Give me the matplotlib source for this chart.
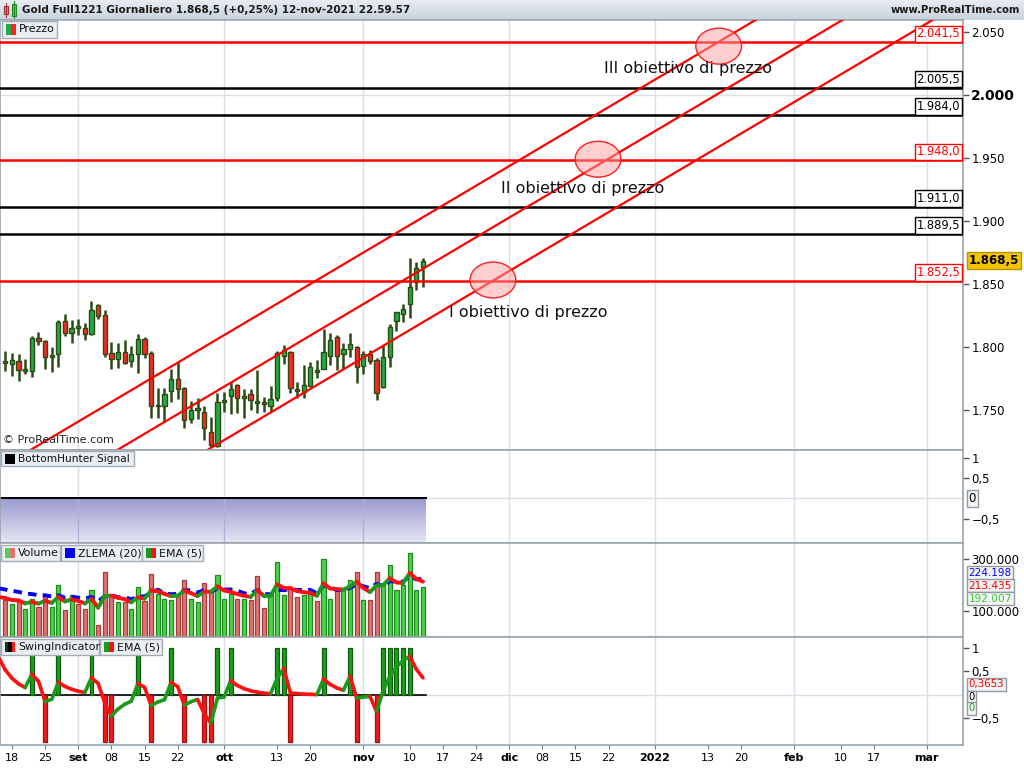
import numpy as np
import matplotlib
matplotlib.use("Agg")
import matplotlib.pyplot as plt
from matplotlib.patches import Ellipse, Rectangle
from matplotlib.collections import LineCollection
import matplotlib.transforms as mtransforms

# ---------------- data ----------------
start_date = "2021-08-17"
holidays = ["2021-12-24"]

opens = [1789, 1787, 1789, 1781, 1781, 1807, 1805, 1792.5, 1794.5, 1821,
         1811.5, 1815.5, 1815.5, 1810.5, 1833, 1825.5, 1795.5, 1790.5, 1796, 1789,
         1794.5, 1806.5, 1795.5, 1753, 1753, 1765.5, 1774.5, 1768, 1743, 1750.5,
         1749, 1733, 1721.5, 1756.5, 1761.5, 1770, 1759.5, 1762.5, 1755.5, 1756.5,
         1753, 1759.5, 1793, 1796.5, 1766.5, 1764.5, 1769, 1780.5, 1783, 1793,
         1808, 1794.5, 1798.5, 1800.5, 1785, 1794.5, 1790, 1768.5, 1792, 1820.5,
         1826, 1834, 1852, 1863.5]
highs = [1797, 1795, 1794.5, 1790.5, 1809, 1812, 1806, 1800, 1821.5, 1826,
         1821.5, 1822.5, 1819, 1836.5, 1834, 1829.5, 1804, 1803, 1805.5, 1801,
         1810.5, 1808, 1797, 1767.5, 1767.5, 1782.5, 1788.5, 1768.5, 1757, 1760,
         1753, 1745, 1764, 1764.5, 1772, 1771, 1766.5, 1766.5, 1782, 1760.5,
         1769, 1797, 1802, 1797, 1772.5, 1786, 1788.5, 1790, 1814.5, 1811,
         1809.5, 1803.5, 1811.5, 1801, 1797, 1797.5, 1791, 1801.5, 1818.5, 1828,
         1834.5, 1870.5, 1867.5, 1871]
lows = [1781, 1777, 1773.5, 1779, 1776.5, 1801.5, 1782.5, 1780.5, 1784.5, 1809,
        1803, 1809.5, 1806, 1809.5, 1822.5, 1792.5, 1782.5, 1783.5, 1786.5, 1784.5,
        1779.5, 1791, 1744, 1744, 1740.5, 1756.5, 1759, 1736, 1739.5, 1743,
        1726.5, 1721, 1720.5, 1749, 1747, 1747.5, 1744, 1750.5, 1748, 1749,
        1749, 1757, 1786.5, 1764, 1760, 1759.5, 1768.5, 1775.5, 1782.5, 1786,
        1782, 1783, 1792.5, 1771.5, 1779, 1786.5, 1758, 1768, 1784.5, 1813,
        1820, 1823, 1845, 1847.5]
closes = [1787.5, 1789.5, 1781.5, 1782.5, 1807, 1804.5, 1792, 1793.5, 1820, 1811.5,
          1815.5, 1816.5, 1810.5, 1829.5, 1825, 1794.5, 1790.5, 1796, 1787.5, 1794.5,
          1806.5, 1794.5, 1753, 1754, 1762.5, 1774.5, 1767, 1742, 1750, 1752,
          1736, 1722.5, 1756.5, 1758, 1766.5, 1760, 1761.5, 1758.5, 1757.5, 1755,
          1759, 1795, 1797.5, 1767.5, 1765, 1770, 1784.5, 1782, 1796, 1806,
          1793, 1798.5, 1802.5, 1784, 1794.5, 1789, 1763.5, 1792.5, 1816, 1827.5,
          1830, 1848, 1863, 1868.5]

volumes = [141000, 128000, 137000, 106000, 147000, 115000, 160000, 115000, 199000, 103000,
           160000, 128000, 109000, 182000, 45000, 249000, 160000, 135000, 135000, 109000,
           192000, 137000, 244000, 167000, 147000, 141000, 160000, 221000, 147000, 135000,
           208000, 173000, 237000, 147000, 164000, 147000, 147000, 144000, 233000, 113000,
           160000, 290000, 160000, 188000, 154000, 163000, 164000, 137000, 301000, 147000,
           179000, 179000, 218000, 249000, 141000, 141000, 249000, 205000, 276000, 179000,
           201000, 323000, 179000, 192007]
volume_up = [0, 1, 0, 1, 1, 0, 0, 1, 1, 0,
             1, 0, 0, 1, 0, 0, 0, 1, 0, 1,
             1, 0, 0, 1, 1, 1, 0, 0, 1, 1,
             0, 0, 1, 1, 1, 0, 1, 0, 0, 0,
             1, 1, 1, 0, 0, 1, 1, 0, 1, 1,
             0, 1, 1, 0, 1, 0, 0, 1, 1, 1,
             1, 1, 1, 1]
volume_ema_seed = 154000
volume_zlema_seed = 187000

swing_up_days = [4, 8, 13, 20, 25, 32, 34, 41, 42, 48, 52, 57, 58, 59, 60, 61]
swing_down_days = [6, 15, 16, 22, 27, 30, 31, 43, 53, 56]
swing_ema_seed = 0.8

level_prices = [2041.5, 2005.5, 1984.0, 1948.0, 1911.0, 1889.5, 1852.5]
level_labels = ["2.041,5", "2.005,5", "1.984,0", "1.948,0", "1.911,0", "1.889,5", "1.852,5"]
level_colors = ["#ff0000", "#000000", "#000000", "#ff0000", "#000000", "#000000", "#ff0000"]

channel_anchor_days = [4.2, 17.3, 30.9]
channel_anchor_price = 1719.8
channel_slope = 3.115

target_days = [73.55, 89.4, 107.6]
target_prices = [1853.2, 1948.9, 2038.5]
target_texts = ["I obiettivo di prezzo", "II obiettivo di prezzo", "III obiettivo di prezzo"]
target_text_days = [66.9, 74.8, 90.3]
target_text_prices = [1827.5, 1926.0, 2020.5]

price_ticks = [1750, 1800, 1850, 1900, 1950, 2000, 2050]
price_tick_labels = ["1.750", "1.800", "1.850", "1.900", "1.950", "2.000", "2.050"]

tick_dates = ["2021-08-18", "2021-08-25", "2021-09-01", "2021-09-08", "2021-09-15", "2021-09-22",
              "2021-10-01", "2021-10-13", "2021-10-20", "2021-11-01", "2021-11-10", "2021-11-17",
              "2021-11-24", "2021-12-01", "2021-12-08", "2021-12-15", "2021-12-22", "2022-01-03",
              "2022-01-13", "2022-01-20", "2022-02-01", "2022-02-10", "2022-02-17", "2022-03-01"]
tick_labels = ["18", "25", "set", "08", "15", "22", "ott", "13", "20", "nov", "10", "17",
               "24", "dic", "08", "15", "22", "2022", "13", "20", "feb", "10", "17", "mar"]
month_labels = {"set", "ott", "nov", "dic", "2022", "feb", "mar"}

title_text = "Gold Full1221 Giornaliero 1.868,5 (+0,25%) 12-nov-2021 22.59.57"
last_price = 1868.5
last_price_label = "1.868,5"

# ---------------- helpers ----------------
plt.rcParams["font.family"] = ["DejaVu Sans"]
W, H = 1024, 768
fig = plt.figure(figsize=(W / 100, H / 100), dpi=100)
fig.patch.set_facecolor("white")


def rect(x0, y0, x1, y1):
    return [x0 / W, 1 - y1 / H, (x1 - x0) / W, (y1 - y0) / H]


def day_index(d):
    return int(np.busday_count(start_date, d, holidays=holidays))


n = len(opens)
days = np.arange(n)
XLIM = (-0.8, 144.45)
SPINE = "#9aa4ad"
GRID = "#d9dee7"
month_days = [day_index(d) for d, l in zip(tick_dates, tick_labels) if l in month_labels]


def style_axes(ax):
    ax.set_xlim(*XLIM)
    ax.set_facecolor("white")
    for s in ax.spines.values():
        s.set_color(SPINE)
        s.set_linewidth(1.2)
    ax.yaxis.tick_right()
    ax.tick_params(axis="y", direction="out", length=4, width=1, color="#555555",
                   labelsize=8.5, pad=2, labelcolor="black")
    ax.tick_params(axis="x", bottom=False, labelbottom=False)
    for md in month_days:
        ax.axvline(md, color=GRID, lw=1, zorder=0)


def legend_box(x0, y0, x1, y1, text, icon_colors, fs=7.9):
    fig.patches.append(Rectangle((x0 / W, 1 - y1 / H), (x1 - x0) / W, (y1 - y0) / H,
                                 transform=fig.transFigure, fc="#e9eef2", ec="#a3acb4",
                                 lw=1, zorder=20))
    iw = 10 / len(icon_colors)
    yc = (y0 + y1) / 2
    for k, c in enumerate(icon_colors):
        fig.patches.append(Rectangle(((x0 + 4 + k * iw) / W, 1 - (yc + 5) / H), iw / W, 10 / H,
                                     transform=fig.transFigure, fc=c, ec="none", zorder=21))
    fig.text((x0 + 17) / W, 1 - yc / H, text, fontsize=fs, va="center",
             ha="left", zorder=22, color="#111111")


def value_box(ax, y, text, color, ec="#8f9aa3", fc="#f4f4f4", bold=False, dy=0, fs=8.5):
    tr = mtransforms.blended_transform_factory(ax.transAxes, ax.transData)
    off = mtransforms.offset_copy(tr, fig=fig, x=4, y=dy, units="points")
    ax.text(1.0, y, text, transform=off, fontsize=fs, color=color, ha="left", va="center",
            fontweight="bold" if bold else "normal", clip_on=False, zorder=30,
            bbox=dict(boxstyle="square,pad=0.15", fc=fc, ec=ec, lw=1))


# ---------------- title bar ----------------
tax = fig.add_axes(rect(0, 0, W, 20))
grad = np.linspace(0, 1, 50).reshape(-1, 1)
tax.imshow(grad, extent=[0, 1, 0, 1], aspect="auto",
           cmap=matplotlib.colors.LinearSegmentedColormap.from_list("t", ["#e6ecf1", "#c9d3dc"]))
tax.set_xlim(0, 1)
tax.set_ylim(0, 1)
tax.axis("off")
tax.plot([5.5 / W, 5.5 / W], [0.15, 0.85], color="#a03030", lw=0.8)
tax.add_patch(Rectangle((3.5 / W, 0.28), 4.5 / W, 0.42, fc="#f08080", ec="#a03030", lw=0.8))
tax.plot([13.5 / W, 13.5 / W], [0.1, 0.95], color="#1c8c1c", lw=0.8)
tax.add_patch(Rectangle((11.5 / W, 0.2), 4.5 / W, 0.6, fc="#40e040", ec="#1c8c1c", lw=0.8))
tax.text(22 / W, 0.5, title_text, fontsize=7.5, fontweight="bold", va="center", ha="left",
         color="#1a1a1a")
tax.text(1 - 4 / W, 0.5, "www.ProRealTime.com", fontsize=7.2, fontweight="bold",
         va="center", ha="right", color="#1a1a1a")

# ---------------- main price panel ----------------
ax = fig.add_axes(rect(0, 20, 963, 450))
style_axes(ax)
ax.set_ylim(1718.5, 2059.2)
ax.axhline(2000, color=GRID, lw=1, zorder=0)
ax.set_yticks(price_ticks)
ax.set_yticklabels(price_tick_labels)
for lab in ax.get_yticklabels():
    if lab.get_text() == "2.000":
        lab.set_fontweight("bold")
        lab.set_fontsize(10)

edge = "#2b4a14"
for i in range(n):
    o, h, l, c = opens[i], highs[i], lows[i], closes[i]
    ax.vlines(i, l, h, color=edge, lw=1.8, zorder=3)
    up = c >= o
    bot = min(o, c)
    hgt = max(abs(c - o), 1.3)
    ax.add_patch(Rectangle((i - 0.32, bot), 0.64, hgt, fc="#1faa44" if up else "#ff2424",
                           ec=edge, lw=1.0, zorder=4))

for p, lab, col in zip(level_prices, level_labels, level_colors):
    ax.axhline(p, color=col, lw=1.8, zorder=5)
    tr = mtransforms.blended_transform_factory(ax.transAxes, ax.transData)
    off = mtransforms.offset_copy(tr, fig=fig, x=-2, y=1.5, units="points")
    ax.text(1.0, p, lab, transform=off, fontsize=8.3, color=col, ha="right", va="bottom",
            zorder=6, bbox=dict(boxstyle="square,pad=0.15", fc="white", ec=col, lw=1))

xx = np.array([-5.0, 150.0])
for a in channel_anchor_days:
    ax.plot(xx, channel_anchor_price + channel_slope * (xx - a), color="#ff0000", lw=1.6,
            zorder=5)

for d, p in zip(target_days, target_prices):
    ax.add_patch(Ellipse((d, p), 6.9, 28.5, fc=(1.0, 0.62, 0.62, 0.5), ec="#ff2020",
                         lw=1.0, zorder=7))
for d, p, t in zip(target_text_days, target_text_prices, target_texts):
    ax.text(d, p, t, fontsize=11.5, color="#111111", ha="left", va="center", zorder=8)

ax.text(3 / 963, 0.012, "\u00a9 ProRealTime.com", transform=ax.transAxes, fontsize=8,
        ha="left", va="bottom", color="#222222", zorder=8)
value_box(ax, last_price, last_price_label, "black", ec="#b8960a", fc="#f5c400", bold=True)

# ---------------- BottomHunter panel ----------------
bh = fig.add_axes(rect(0, 450, 963, 543))
style_axes(bh)
bh.set_ylim(-1.1, 1.195)
bh.axhline(0, color=GRID, lw=1, zorder=0)
cm = matplotlib.colors.LinearSegmentedColormap.from_list("bh", ["#e6e6f3", "#9a9ad0"])
bh.imshow(np.linspace(0, 1, 100).reshape(-1, 1), extent=[XLIM[0], n - 0.6, -1.1, 0],
          aspect="auto", cmap=cm, origin="lower", zorder=1)
for md in month_days:
    if md < n:
        bh.plot([md, md], [-1.1, 0], color="#aeb0d8", lw=1, zorder=1.5)
bh.plot([XLIM[0], n - 0.6], [0, 0], color="black", lw=1.4, zorder=2)
bh.set_xlim(*XLIM)
bh.set_yticks([1, 0.5, -0.5])
bh.set_yticklabels(["1", "0,5", "\u22120,5"])
value_box(bh, 0, "0", "black")

# ---------------- Volume panel ----------------
va = fig.add_axes(rect(0, 543, 963, 637))
style_axes(va)
va.set_ylim(0, 361500)
va.set_yticks([100000, 300000])
va.set_yticklabels(["100.000", "300.000"])
vcol = ["#4fd04f" if u else "#e07272" for u in volume_up]
vedge = ["#1d8a1d" if u else "#a53b3b" for u in volume_up]
va.bar(days, volumes, width=0.62, color=vcol, edgecolor=vedge, lw=0.9, zorder=3)


def ema(values, span, seed):
    a = 2.0 / (span + 1)
    out = [seed]
    for v in values:
        out.append(out[-1] + a * (v - out[-1]))
    return np.array(out)


def zlema(values, period, seed):
    lag = (period - 1) // 2
    a = 2.0 / (period + 1)
    out = [seed]
    for i, v in enumerate(values):
        src = 2 * v - values[i - lag] if i >= lag else v
        out.append(out[-1] + a * (src - out[-1]))
    return np.array(out)


xs_ext = np.arange(-1, n)
vz = zlema(volumes, 20, volume_zlema_seed)
ve = ema(volumes, 5, volume_ema_seed)
va.plot(xs_ext, vz, color="#0000ff", lw=2.8, ls=(0, (2.2, 1.6)), zorder=4)


def colored_line(axis, xs, ys, lw):
    segs = [[(xs[k], ys[k]), (xs[k + 1], ys[k + 1])] for k in range(len(xs) - 1)]
    cols = ["#1a9a1a" if ys[k + 1] >= ys[k] else "#ff1010" for k in range(len(xs) - 1)]
    lc = LineCollection(segs, colors=cols, linewidths=lw, zorder=5, capstyle="round")
    axis.add_collection(lc)


colored_line(va, xs_ext, ve, 2.8)
value_box(va, 246000, "224.198", "#0000ff", fs=7.6)
value_box(va, 197000, "213.435", "#ff0000", fs=7.6)
value_box(va, 148000, "192.007", "#33cc33", fs=7.6)

# ---------------- Swing panel ----------------
sw = fig.add_axes(rect(0, 637, 963, 745))
style_axes(sw)
sw.set_ylim(-1.064, 1.234)
sw.axhline(0, color=GRID, lw=1, zorder=0)
sw.plot([XLIM[0], n - 0.6], [0, 0], color="black", lw=1.2, zorder=2)
swing = np.zeros(n)
swing[swing_up_days] = 1
swing[swing_down_days] = -1
for i in range(n):
    if swing[i] > 0:
        sw.bar(i, 1, width=0.6, color="#1e9e1e", edgecolor="#0c5a0c", lw=0.9, zorder=3)
    elif swing[i] < 0:
        sw.bar(i, -1, width=0.6, color="#f21a1a", edgecolor="#a01010", lw=0.9, zorder=3)
se = ema(list(swing), 5, swing_ema_seed)
colored_line(sw, xs_ext, se, 2.6)
sw.set_yticks([1, 0.5, -0.5])
sw.set_yticklabels(["1", "0,5", "\u22120,5"])
value_box(sw, 0.23, "0,3653", "#ff0000", fs=7.4)
value_box(sw, -0.05, "0", "black", fs=7.2)
value_box(sw, -0.28, "0", "#1a9a1a", fs=7.2)

# x ticks
tpos = [day_index(d) for d in tick_dates]
sw.tick_params(axis="x", bottom=True, labelbottom=True, length=3, color="#777777",
               labelsize=8, pad=3)
sw.set_xticks(tpos)
sw.set_xticklabels(tick_labels)
for lab in sw.get_xticklabels():
    if lab.get_text() in month_labels:
        lab.set_fontweight("bold")
sw.set_xlim(*XLIM)

# ---------------- legend boxes ----------------
legend_box(2, 21, 57, 38, "Prezzo", ["#1faa44", "#ff2424"])
legend_box(1, 451, 134, 466, "BottomHunter Signal", ["#000000"], fs=7.6)
legend_box(1, 545, 60, 561, "Volume", ["#4fd04f", "#e07272"])
legend_box(61, 545, 142, 561, "ZLEMA (20)", ["#0000ff"])
legend_box(142, 545, 203, 561, "EMA (5)", ["#1a9a1a", "#ff1010"])
legend_box(1, 639, 99, 655, "SwingIndicator", ["#0b3d0b", "#000000", "#ff1a1a"])
legend_box(100, 639, 162, 655, "EMA (5)", ["#1a9a1a", "#ff1010"])

fig.savefig("out.png", dpi=100)
